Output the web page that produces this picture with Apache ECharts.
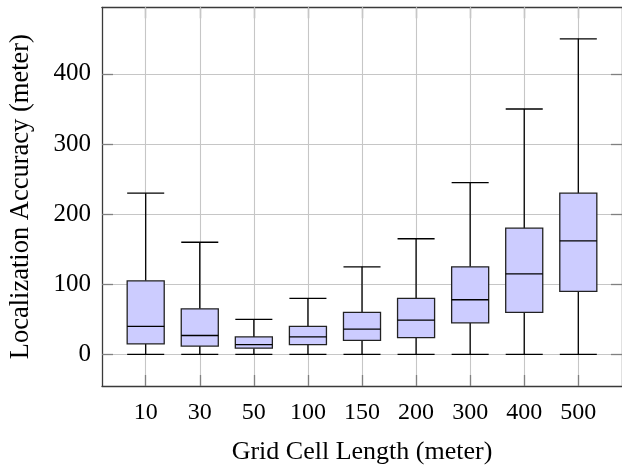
<!DOCTYPE html>
<html>
<head>
<meta charset="utf-8">
<script src="https://cdn.jsdelivr.net/npm/echarts@6/dist/echarts.min.js"></script>
<style>
html,body{margin:0;padding:0;background:#fff;}
#chart{width:622px;height:470px;}
</style>
</head>
<body>
<div id="chart"></div>
<script>
const categories = ['10','30','50','100','150','200','300','400','500'];
const minVals = [0, 0, 0, 0, 0, 0, 0, 0, 0];
const q1Vals  = [15, 12, 9, 14, 20, 24, 45, 60, 90];
const medVals = [40, 27, 14, 25, 36, 49, 78, 115, 162];
const q3Vals  = [105, 65, 25, 40, 60, 80, 125, 180, 230];
const maxVals = [230, 160, 50, 80, 125, 165, 245, 350, 450];
const yTicks = [0, 100, 200, 300, 400];

const positions = categories.map((c, i) => i + 1);
const boxData = categories.map((c, i) => [positions[i], minVals[i], q1Vals[i], medVals[i], q3Vals[i], maxVals[i]]);

const BOX_W = 0.685;
const FONT = '"Liberation Serif", "Times New Roman", serif';

const chart = echarts.init(document.getElementById('chart'), null, {renderer: 'canvas'});

const axisLineStyle = {color: '#3a3a3a', width: 1.3};
const tickStyle = {color: '#808080', width: 1.3};
const gridLineStyle = {color: '#c6c6c6', width: 1.1};

const xBase = {
  type: 'value',
  min: 1 - 0.808,
  max: 9 + 0.808,
  axisLine: {show: true, lineStyle: axisLineStyle, onZero: false},
  axisTick: {show: true, inside: true, length: 11, lineStyle: tickStyle, customValues: positions},
  axisLabel: {show: false, customValues: positions},
  splitLine: {show: false}
};
const yBase = {
  type: 'value',
  min: -45,
  max: 495,
  axisLine: {show: true, lineStyle: axisLineStyle, onZero: false},
  axisTick: {show: true, inside: true, length: 11, lineStyle: tickStyle, customValues: yTicks},
  axisLabel: {show: false, customValues: yTicks},
  splitLine: {show: false}
};

chart.setOption({
  animation: false,
  backgroundColor: '#fff',
  grid: {left: 101.7, right: -3.5, top: 7.3, bottom: 83.3, containLabel: false},
  xAxis: [
    Object.assign({}, xBase, {
      position: 'bottom',
      name: 'Grid Cell Length (meter)',
      nameLocation: 'middle',
      nameGap: 53,
      nameTextStyle: {fontFamily: FONT, fontSize: 26, color: '#000'},
      axisLabel: {show: true, customValues: positions, margin: 15,
        fontFamily: FONT, fontSize: 24, color: '#000',
        formatter: v => categories[Math.round(v) - 1] || ''},
      splitLine: {show: true, lineStyle: gridLineStyle},
      z: 1
    }),
    Object.assign({}, xBase, {position: 'top'})
  ],
  yAxis: [
    Object.assign({}, yBase, {
      position: 'left',
      name: 'Localization Accuracy (meter)',
      nameLocation: 'middle',
      nameGap: 67,
      nameTextStyle: {fontFamily: FONT, fontSize: 26.5, color: '#000'},
      axisLabel: {show: true, customValues: yTicks, margin: 11,
        fontFamily: FONT, fontSize: 25, color: '#000'},
      splitLine: {show: true, lineStyle: gridLineStyle}
    }),
    Object.assign({}, yBase, {position: 'right'})
  ],
  series: [{
    type: 'custom',
    xAxisIndex: 0,
    yAxisIndex: 0,
    data: boxData,
    z: 5,
    renderItem: function (params, api) {
      const x = api.value(0);
      const lo = api.coord([x, api.value(1)]);
      const q1 = api.coord([x, api.value(2)]);
      const md = api.coord([x, api.value(3)]);
      const q3 = api.coord([x, api.value(4)]);
      const hi = api.coord([x, api.value(5)]);
      const hw = api.size([BOX_W, 0])[0] / 2;
      const cx = lo[0];
      const lineStyle = {stroke: '#000', lineWidth: 1.3, fill: null};
      return {
        type: 'group',
        children: [
          {type: 'line', shape: {x1: cx, y1: lo[1], x2: cx, y2: q1[1]}, style: lineStyle},
          {type: 'line', shape: {x1: cx, y1: q3[1], x2: cx, y2: hi[1]}, style: lineStyle},
          {type: 'line', shape: {x1: cx - hw, y1: lo[1], x2: cx + hw, y2: lo[1]}, style: lineStyle},
          {type: 'line', shape: {x1: cx - hw, y1: hi[1], x2: cx + hw, y2: hi[1]}, style: lineStyle},
          {type: 'rect', shape: {x: cx - hw, y: q3[1], width: 2 * hw, height: q1[1] - q3[1]},
            style: {fill: '#ccccff', stroke: '#222', lineWidth: 1.3}},
          {type: 'line', shape: {x1: cx - hw, y1: md[1], x2: cx + hw, y2: md[1]}, style: lineStyle}
        ]
      };
    }
  }]
});
</script>
</body>
</html>
